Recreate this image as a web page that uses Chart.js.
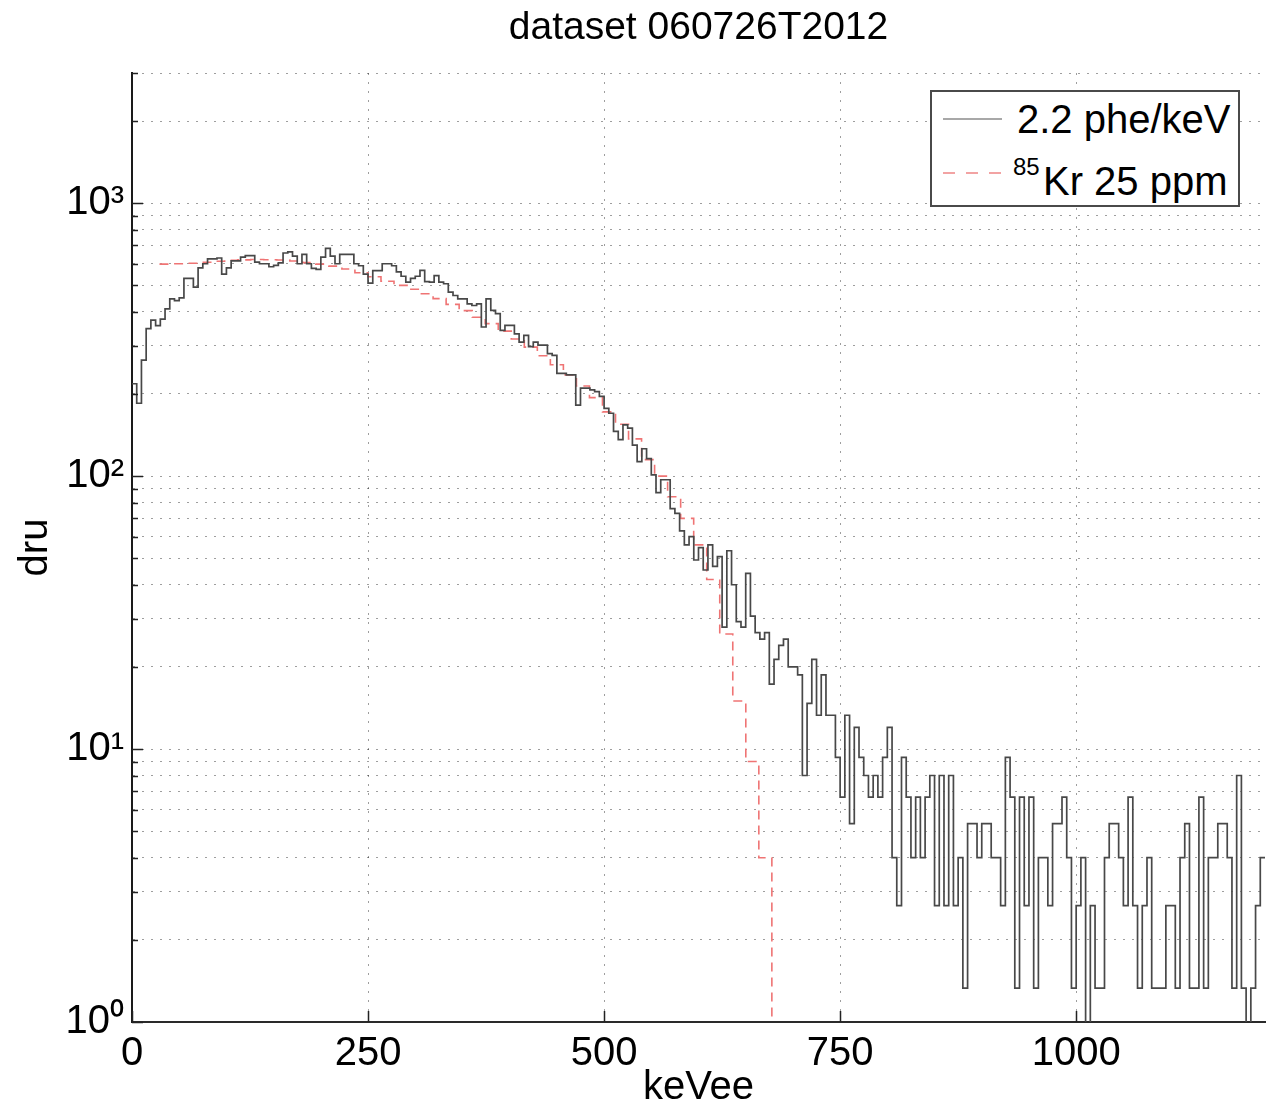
<!DOCTYPE html>
<html>
<head>
<meta charset="utf-8">
<script src="https://cdn.jsdelivr.net/npm/chart.js@4.4.1/dist/chart.umd.min.js"></script>
<style>
  html, body { margin: 0; padding: 0; background: #fff; }
  #wrap { position: relative; width: 1268px; height: 1108px; }
  canvas { display: block; }
  #legend {
    position: absolute; left: 930px; top: 90px; width: 310px; height: 117px;
    box-sizing: border-box; border: 2px solid #4a4a4a; background: #fff;
    font-family: "Liberation Sans", Arial, Helvetica, sans-serif; color: #000;
  }
  #legend span { position: absolute; white-space: nowrap; }
  #legend .lt { font-size: 40px; line-height: 40px; }
  #legend .ls { font-size: 24px; line-height: 24px; }
</style>
</head>
<body>
<div id="wrap">
  <canvas id="c" width="1268" height="1108"></canvas>
  <div id="legend">
    <svg width="306" height="113" style="position:absolute;left:0;top:0">
      <line x1="11" y1="27" x2="70" y2="27" stroke="#a8a8a8" stroke-width="2"/>
      <line x1="11" y1="81" x2="70" y2="81" stroke="#f2a3a3" stroke-width="2" stroke-dasharray="12 11"/>
    </svg>
    <span class="lt" style="left:85px;top:7px">2.2 phe/keV</span>
    <span class="ls" style="left:81px;top:63px">85</span>
    <span class="lt" style="left:111px;top:69px">Kr 25 ppm</span>
  </div>
</div>
<script>
// ---------------- data ----------------
const binWidthKeV = 5;          // histogram bin width (keV)
// measured spectrum, 2.2 phe/keV (dru), one value per 5 keV bin from 0 to 1200 keV
const counts = [
  218, 185, 266, 347, 373, 356, 376, 410, 446, 440,
  450, 530, 530, 493, 580, 600, 625, 625, 630, 550,
  580, 615, 615, 635, 643, 643, 608, 600, 600, 585,
  592, 605, 657, 663, 640, 600, 650, 600, 577, 572,
  635, 683, 640, 600, 650, 650, 650, 600, 590, 550,
  510, 566, 566, 600, 600, 590, 560, 540, 514, 530,
  540, 567, 516, 514, 543, 514, 507, 472, 459, 446,
  446, 428, 422, 428, 352, 446, 405, 394, 342, 357,
  357, 332, 310, 328, 298, 310, 302, 302, 281, 277,
  238, 238, 235, 235, 182, 210, 210, 207, 204, 196,
  177, 170, 146, 136, 154, 150, 130, 113, 126, 116,
  101, 87, 97, 97, 76, 73, 63, 56, 60, 49.3,
  54.7, 45.3, 56, 46.7, 50.7, 28, 53.3, 40, 29.3, 28,
  44, 30.7, 26.7, 25.3, 26.7, 17.3, 21.3, 24, 25.3, 20,
  20, 18.7, 8, 14.7, 21.3, 13.3, 18.7, 13.3, 13.3, 9.33,
  6.67, 13.3, 5.33, 12, 9.33, 8, 6.67, 8, 6.67, 9.33,
  12, 4, 2.67, 9.33, 6.67, 4, 6.67, 4, 6.67, 8,
  2.67, 8, 2.67, 8, 2.67, 4, 1.33, 5.33, 5.33, 4,
  5.33, 5.33, 4, 4, 2.67, 9.33, 6.67, 1.33, 6.67, 2.67,
  6.67, 1.33, 4, 4, 2.67, 5.33, 5.33, 6.67, 4, 1.33,
  2.67, 4, 0, 2.67, 1.33, 1.33, 4, 5.33, 5.33, 4,
  2.67, 6.67, 2.67, 1.33, 2.67, 4, 1.33, 1.33, 1.33, 2.67,
  2.67, 1.33, 4, 5.33, 1.33, 1.33, 6.67, 1.33, 4, 4,
  5.33, 5.33, 4, 1.33, 8, 1.33, 0, 1.33, 2.67, 4
];
// 85Kr 25 ppm model: step edges (keV) and step values (dru)
const krEdgesKeV = [
  29.1, 42.9, 56.7, 70.5, 84.3, 98.1, 111.9, 125.7, 139.5, 153.3,
  167.1, 180.9, 194.7, 208.5, 222.3, 236.1, 249.9, 263.7, 277.5, 291.3,
  305.1, 318.9, 332.7, 346.5, 360.3, 374.1, 387.9, 401.7, 415.5, 429.3,
  443.1, 456.9, 470.7, 484.5, 498.3, 512.1, 525.9, 539.7, 553.5, 567.3,
  581.1, 594.9, 608.7, 622.5, 636.3, 650.1, 663.9, 677.7
];
const krDru = [
  598, 600, 603, 608, 613, 618, 620, 622, 621, 619,
  614, 606, 598, 588, 574, 556, 538, 518, 500, 484,
  466, 447, 426, 404, 382, 362, 340, 318, 297, 276,
  256, 235, 214, 194, 172, 155, 137, 115, 100, 84,
  70, 56, 41.8, 26.4, 15, 9, 4
];
const xTicks = [0, 250, 500, 750, 1000];
const xTickLabels = ['0', '250', '500', '750', '1000'];
const yMajorTicks = [1, 10, 100, 1000];
const yMajorLabels = ['10\u2070', '10\u00B9', '10\u00B2', '10\u00B3'];
const yMinorMultipliers = [2, 3, 4, 5, 6, 7, 8, 9];
const xRange = [0, 1200];
const yRange = [1, 3000];

// ---------------- build ----------------
const BELOW_AXIS = 0.5; // empty bins sit below the log-axis floor
const histPts = counts.map((v, i) => ({ x: i * binWidthKeV, y: v > 0 ? v : BELOW_AXIS }));
histPts.push({ x: counts.length * binWidthKeV, y: histPts[histPts.length - 1].y });
const krPts = krDru.map((v, i) => ({ x: krEdgesKeV[i], y: v }));
krPts.push({ x: krEdgesKeV[krEdgesKeV.length - 1], y: BELOW_AXIS });

const yTickValues = [];
yMajorTicks.forEach(d => {
  if (d <= yRange[1]) yTickValues.push(d);
  yMinorMultipliers.forEach(m => { if (d * m <= yRange[1]) yTickValues.push(d * m); });
});

const FONT = '"Liberation Sans", Arial, Helvetica, sans-serif';

const innerTicks = {
  id: 'innerTicks',
  afterDatasetsDraw(chart) {
    const { ctx, chartArea: a, scales: { x, y } } = chart;
    ctx.save();
    ctx.strokeStyle = '#222';
    ctx.lineWidth = 1.5;
    ctx.beginPath();
    y.ticks.forEach(t => {
      const py = Math.round(y.getPixelForValue(t.value)) + 0.5;
      const len = yMajorTicks.includes(t.value) ? 11 : 6;
      ctx.moveTo(a.left, py); ctx.lineTo(a.left + len, py);
    });
    x.ticks.forEach(t => {
      const px = Math.round(x.getPixelForValue(t.value)) + 0.5;
      ctx.moveTo(px, a.bottom); ctx.lineTo(px, a.bottom - 11);
    });
    ctx.stroke();
    ctx.restore();
  }
};

new Chart(document.getElementById('c'), {
  type: 'line',
  data: {
    datasets: [
      {
        label: '2.2 phe/keV',
        data: histPts,
        stepped: true,
        borderColor: '#484848',
        borderWidth: 1.7,
        pointRadius: 0,
        fill: false
      },
      {
        label: '85Kr 25 ppm',
        data: krPts,
        stepped: true,
        borderColor: '#ef7474',
        borderWidth: 1.6,
        borderDash: [9, 6],
        pointRadius: 0,
        fill: false
      }
    ]
  },
  options: {
    responsive: false,
    animation: false,
    devicePixelRatio: 1,
    layout: { padding: { left: 0, right: 3, top: 0, bottom: 0 } },
    plugins: {
      legend: { display: false },
      tooltip: { enabled: false },
      title: {
        display: true,
        fullSize: false,
        text: 'dataset 060726T2012',
        color: '#000',
        font: { family: FONT, size: 39, weight: 'normal', lineHeight: 1.2 },
        padding: { top: 5, bottom: 21.2 }
      }
    },
    scales: {
      x: {
        type: 'linear',
        min: xRange[0],
        max: xRange[1],
        afterBuildTicks: ax => { ax.ticks = xTicks.map(v => ({ value: v })); },
        afterFit: ax => { ax.height = 86; },
        ticks: {
          autoSkip: false, maxRotation: 0, padding: 8, color: '#000',
          font: { family: FONT, size: 40 },
          callback: v => xTickLabels[xTicks.indexOf(v)]
        },
        grid: { color: 'rgba(0,0,0,0.38)', lineWidth: 1, drawTicks: false },
        border: { display: true, color: '#2a2a2a', width: 2, dash: [2, 7] },
        title: {
          display: true, text: 'keVee', color: '#000',
          font: { family: FONT, size: 40, lineHeight: 1.0 },
          padding: { top: 0, bottom: 0 }
        }
      },
      y: {
        type: 'logarithmic',
        min: yRange[0],
        max: yRange[1],
        afterBuildTicks: ax => { ax.ticks = yTickValues.map(v => ({ value: v })); },
        afterFit: ax => { ax.width = 132; },
        ticks: {
          autoSkip: false, padding: 8, color: '#000',
          font: { family: FONT, size: 40 },
          callback: v => { const i = yMajorTicks.indexOf(v); return i >= 0 ? yMajorLabels[i] : ''; }
        },
        grid: { color: 'rgba(0,0,0,0.38)', lineWidth: 1, drawTicks: false },
        border: { display: true, color: '#1a1a1a', width: 2, dash: [2, 7] },
        title: {
          display: true, text: 'dru', color: '#000',
          font: { family: FONT, size: 40, lineHeight: 1.2 },
          padding: { top: 12, bottom: 0 }
        }
      }
    }
  },
  plugins: [innerTicks]
});
</script>
</body>
</html>
